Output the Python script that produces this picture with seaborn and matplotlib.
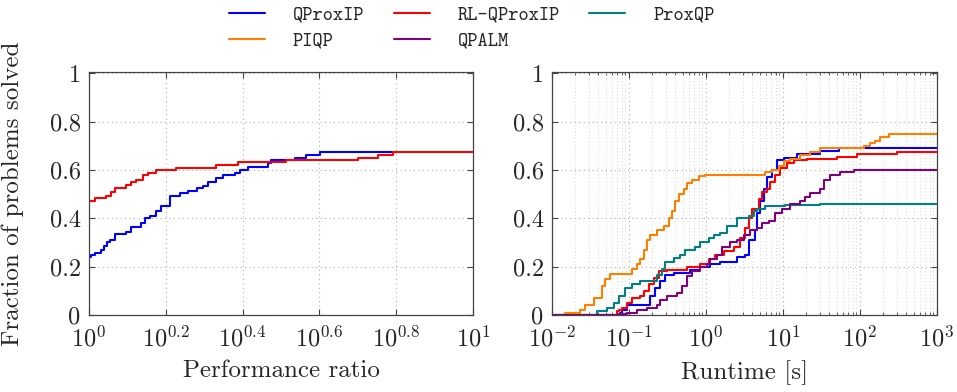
import numpy as np
import pandas as pd
import matplotlib
matplotlib.use("Agg")
import matplotlib.pyplot as plt
import seaborn as sns
from matplotlib.lines import Line2D
from matplotlib.ticker import FixedLocator, FixedFormatter, LogLocator, NullFormatter, NullLocator

# ### Performance profile (x stored as log10 of the ratio)
pp_qproxip_logx = [0, 0.006, 0.015, 0.032, 0.040, 0.047, 0.054, 0.067, 0.097, 0.110, 0.136, 0.145,
                   0.158, 0.175, 0.188, 0.210, 0.236, 0.258, 0.280, 0.297, 0.310, 0.332, 0.349,
                   0.379, 0.392, 0.414, 0.466, 0.475, 0.536, 0.566, 0.601, 0.79]
pp_qproxip_y = [0.239, 0.248, 0.258, 0.269, 0.285, 0.300, 0.310, 0.335, 0.345, 0.366, 0.379, 0.400,
                0.411, 0.430, 0.451, 0.492, 0.503, 0.513, 0.524, 0.535, 0.548, 0.566, 0.577,
                0.589, 0.600, 0.611, 0.628, 0.641, 0.651, 0.662, 0.673, 0.673]
pp_rl_logx = [0, 0.015, 0.045, 0.058, 0.067, 0.097, 0.110, 0.123, 0.141, 0.154, 0.175, 0.227,
              0.332, 0.388, 0.514, 0.700, 0.753, 0.792, 1.0]
pp_rl_y = [0.472, 0.483, 0.494, 0.508, 0.527, 0.538, 0.549, 0.559, 0.579, 0.589, 0.600, 0.610,
           0.621, 0.632, 0.641, 0.651, 0.662, 0.673, 0.673]

# ### Runtime profile (x stored as log10 of seconds)
rt_qproxip_logx = [-2, -1.113, -1.09, -1.026, -0.723, -0.658, -0.593, -0.528, -0.420, -0.203, -0.074,
                   0.056, 0.186, 0.403, 0.500, 0.554, 0.641, 0.662, 0.706, 0.749, 0.792, 0.857,
                   0.922, 1.009, 1.182, 1.485, 1.723, 3]
rt_qproxip_y = [0, 0.01, 0.02, 0.04, 0.08, 0.11, 0.14, 0.165, 0.175, 0.185, 0.20,
                0.21, 0.22, 0.24, 0.25, 0.31, 0.35, 0.42, 0.47, 0.52, 0.57, 0.60,
                0.64, 0.65, 0.665, 0.68, 0.689, 0.689]
rt_rl_logx = [-2, -1.156, -1.13, -1.09, -1.026, -0.961, -0.853, -0.810, -0.745, -0.680, -0.615, -0.506,
              -0.247, -0.074, 0.035, 0.121, 0.229, 0.359, 0.446, 0.511, 0.554, 0.597, 0.684,
              0.727, 0.792, 0.835, 0.900, 0.965, 1.052, 1.139, 1.312, 1.701, 1.961, 2.481, 3]
rt_rl_y = [0, 0.015, 0.02, 0.03, 0.05, 0.07, 0.08, 0.10, 0.13, 0.155, 0.18, 0.185,
           0.20, 0.21, 0.23, 0.25, 0.265, 0.28, 0.32, 0.36, 0.40, 0.44, 0.48,
           0.51, 0.52, 0.55, 0.58, 0.61, 0.63, 0.64, 0.645, 0.655, 0.665, 0.675, 0.675]
rt_proxqp_logx = [-2, -1.416, -1.286, -1.199, -1.134, -1.048, -0.961, -0.853, -0.636, -0.571, -0.528,
                  -0.420, -0.333, -0.268, -0.139, -0.074, 0.035, 0.100, 0.186, 0.273, 0.403,
                  0.554, 0.619, 0.662, 0.771, 1.030, 1.485, 3]
rt_proxqp_y = [0, 0.015, 0.03, 0.05, 0.08, 0.11, 0.13, 0.14, 0.165, 0.19, 0.22,
               0.235, 0.25, 0.27, 0.28, 0.30, 0.32, 0.33, 0.34, 0.37, 0.40,
               0.41, 0.43, 0.44, 0.45, 0.455, 0.46, 0.46]
rt_piqp_logx = [-2, -1.827, -1.632, -1.567, -1.459, -1.351, -1.307, -1.242, -0.961, -0.896, -0.853,
                -0.810, -0.766, -0.723, -0.636, -0.550, -0.485, -0.442, -0.398, -0.355, -0.290,
                -0.247, -0.182, -0.095, -0.009, 0.771, 0.857, 0.944, 1.009, 1.095, 1.225,
                1.355, 1.485, 2.048, 2.134, 2.199, 2.264, 2.372, 3]
rt_piqp_y = [0, 0.01, 0.02, 0.04, 0.07, 0.12, 0.15, 0.17, 0.19, 0.21, 0.23,
             0.27, 0.31, 0.33, 0.35, 0.37, 0.40, 0.43, 0.47, 0.50, 0.52,
             0.545, 0.56, 0.575, 0.58, 0.59, 0.60, 0.615, 0.635, 0.645, 0.66,
             0.675, 0.69, 0.70, 0.71, 0.72, 0.735, 0.75, 0.75]
rt_qpalm_logx = [-2, -1.134, -1.026, -0.896, -0.766, -0.636, -0.593, -0.506, -0.377, -0.312, -0.247,
                 -0.182, -0.074, 0.013, 0.056, 0.143, 0.208, 0.316, 0.403, 0.489, 0.576,
                 0.662, 0.727, 0.814, 0.900, 0.987, 1.095, 1.225, 1.290, 1.355, 1.485,
                 1.528, 1.615, 1.745, 1.918, 3]
rt_qpalm_y = [0, 0.005, 0.01, 0.02, 0.03, 0.04, 0.06, 0.08, 0.09, 0.12, 0.16,
              0.18, 0.20, 0.21, 0.23, 0.25, 0.28, 0.30, 0.31, 0.33, 0.35,
              0.36, 0.38, 0.39, 0.42, 0.44, 0.46, 0.47, 0.49, 0.505, 0.52,
              0.56, 0.58, 0.59, 0.60, 0.60]

colors = {"QProxIP": "#0000ff", "RL-QProxIP": "#ff0000", "ProxQP": "#008080",
          "PIQP": "#ff8000", "QPALM": "#800080"}


def frame(pairs):
    parts = []
    for name, (lx, y) in pairs.items():
        parts.append(pd.DataFrame({"x": 10 ** np.array(lx), "y": y, "solver": name}))
    return pd.concat(parts, ignore_index=True)


perf = frame({"QProxIP": (pp_qproxip_logx, pp_qproxip_y),
              "RL-QProxIP": (pp_rl_logx, pp_rl_y)})
runtime = frame({"QProxIP": (rt_qproxip_logx, rt_qproxip_y),
                 "RL-QProxIP": (rt_rl_logx, rt_rl_y),
                 "ProxQP": (rt_proxqp_logx, rt_proxqp_y),
                 "PIQP": (rt_piqp_logx, rt_piqp_y),
                 "QPALM": (rt_qpalm_logx, rt_qpalm_y)})

sns.set_style("ticks")
plt.rcParams["font.family"] = ["cmr10", "DejaVu Serif"]
plt.rcParams["mathtext.fontset"] = "cm"
plt.rcParams["axes.formatter.use_mathtext"] = True

fig = plt.figure(figsize=(9.57, 3.92), dpi=100)
W, H = 957, 392
ax1 = fig.add_axes([89 / W, (H - 315) / H, 384 / W, 243 / H])
ax2 = fig.add_axes([552 / W, (H - 315) / H, 385 / W, 243 / H])

sns.lineplot(data=perf, x="x", y="y", hue="solver", palette=colors, estimator=None,
             drawstyle="steps-post", lw=1.5, legend=False, ax=ax1)
sns.lineplot(data=runtime, x="x", y="y", hue="solver", palette=colors, estimator=None,
             drawstyle="steps-post", lw=1.5, legend=False, ax=ax2)

yt = [0, 0.2, 0.4, 0.6, 0.8, 1]
ylab = ["0", "0.2", "0.4", "0.6", "0.8", "1"]
for ax in (ax1, ax2):
    ax.set_xscale("log")
    ax.set_ylim(0, 1.005)
    ax.yaxis.set_major_locator(FixedLocator(yt))
    ax.yaxis.set_major_formatter(FixedFormatter(ylab))
    ax.tick_params(which="both", direction="in", top=True, right=True, labelsize=17.5,
                   color="#444444")
    ax.tick_params(axis="y", pad=6)
    ax.tick_params(axis="x", pad=8)
    ax.tick_params(which="major", length=4, width=0.8)
    ax.tick_params(which="minor", length=2.5, width=0.6)
    for s in ax.spines.values():
        s.set_color("#444444")
        s.set_linewidth(0.9)
    ax.set_ylabel("")
    ax.grid(which="major", ls=(0, (1, 3)), color="#b0b0b0", lw=0.8)

# left axis ticks
ax1.set_xlim(1, 10)
xt = [0, 0.2, 0.4, 0.6, 0.8, 1]
ax1.xaxis.set_major_locator(FixedLocator([10 ** v for v in xt]))
ax1.xaxis.set_major_formatter(FixedFormatter([r"$10^{0}$", r"$10^{0.2}$", r"$10^{0.4}$",
                                              r"$10^{0.6}$", r"$10^{0.8}$", r"$10^{1}$"]))
ax1.xaxis.set_minor_locator(NullLocator())
ax1.set_xlabel("Performance ratio", fontsize=18)
ax1.set_ylabel("Fraction of problems solved", fontsize=18)
ax1.xaxis.set_label_coords(0.5, -0.185)
ax1.yaxis.set_label_coords(-0.168, 0.5)

# right axis ticks
ax2.set_xlim(1e-2, 1e3)
ax2.xaxis.set_major_locator(LogLocator(base=10, numticks=10))
ax2.xaxis.set_minor_locator(LogLocator(base=10, subs=np.arange(2, 10), numticks=20))
ax2.xaxis.set_minor_formatter(NullFormatter())
ax2.grid(which="minor", axis="x", ls=(0, (1, 3)), color="#c8c8c8", lw=0.6)
ax2.set_xlabel("Runtime [s]", fontsize=18)
ax2.xaxis.set_label_coords(0.5, -0.185)

# legend
order = ["QProxIP", "PIQP", "RL-QProxIP", "QPALM", "ProxQP"]
handles = [Line2D([], [], color=colors[n], lw=1.5) for n in order]
fig.legend(handles, order, loc="upper center", bbox_to_anchor=(0.493, 1.02), ncol=3,
           frameon=False, prop={"family": "cmtt10", "size": 14}, handlelength=1.85,
           handletextpad=1.45, columnspacing=1.5, labelspacing=0.4, borderpad=0.2)

fig.savefig("out.png", dpi=100)
